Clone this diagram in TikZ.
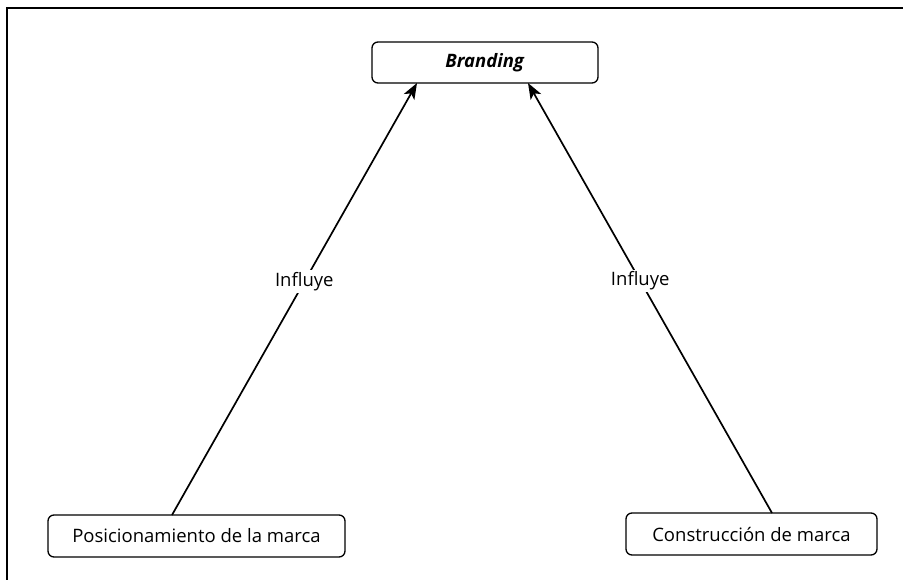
\documentclass[tikz,border=0pt]{standalone}
\usepackage{fontspec}
\setmainfont{Open Sans}
\usetikzlibrary{arrows.meta}
\begin{document}
\begin{tikzpicture}[x=1pt,y=-1pt,
  conceptbox/.style={draw, line width=1.3pt, rounded corners=6pt, inner sep=0pt, font=\fontsize{18.5}{22}\selectfont},
  link/.style={draw, line width=1.7pt, -{Stealth[length=16pt,width=12pt,inset=4pt]}},
  linklabel/.style={fill=white, inner sep=2pt, font=\fontsize{18.5}{22}\selectfont}]
  \useasboundingbox (0,0) rectangle (903,579);
  % page frame (only top and left edges fall inside the view)
  \draw[line width=2pt] (7,590) -- (7,8) -- (910,8);
  \node[conceptbox, minimum width=226pt, minimum height=41pt] (brand) at (485,62.5) {\textbf{\textit{Branding}}};
  \node[conceptbox, minimum width=297pt, minimum height=42pt] (pos) at (196.5,536) {Posicionamiento de la marca};
  \node[conceptbox, minimum width=251pt, minimum height=42pt] (cons) at (751.5,534) {Construcción de marca};
  \coordinate (posTop) at (172,515);
  \coordinate (consTop) at (772,513);
  \coordinate (brandL) at (417,83);
  \coordinate (brandR) at (528,83);
  \draw[link] (posTop) -- node[linklabel, pos=0.54] (inf1) {Influye} (brandL);
  \draw[link] (consTop) -- node[linklabel, pos=0.54] (inf2) {Influye} (brandR);
\end{tikzpicture}
\end{document}
